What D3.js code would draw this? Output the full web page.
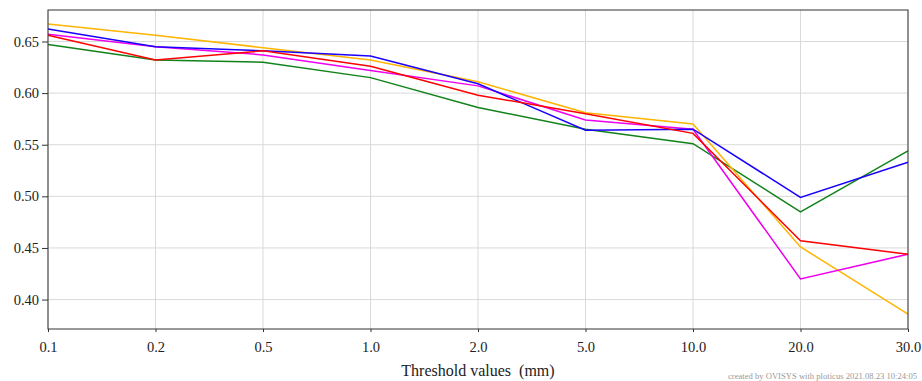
<!DOCTYPE html>
<html>
<head>
<meta charset="utf-8">
<script src="https://cdn.jsdelivr.net/npm/d3@7"></script>
<style>
  body { margin: 0; background: #fff; }
  svg { display: block; font-family: "Liberation Serif", "DejaVu Serif", serif; }
</style>
</head>
<body>
<div id="chart"></div>
<script>
// Data
const thresholds = ["0.1", "0.2", "0.5", "1.0", "2.0", "5.0", "10.0", "20.0", "30.0"];
const yTicks = [0.40, 0.45, 0.50, 0.55, 0.60, 0.65];

const greenValues   = [0.647, 0.632, 0.630, 0.615, 0.586, 0.565, 0.551, 0.485, 0.544];
const orangeValues  = [0.667, 0.656, 0.644, 0.632, 0.611, 0.581, 0.570, 0.451, 0.386];
const magentaValues = [0.657, 0.645, 0.637, 0.622, 0.607, 0.574, 0.565, 0.420, 0.444];
const blueValues    = [0.662, 0.645, 0.641, 0.636, 0.609, 0.564, 0.565, 0.499, 0.533];
const redValues     = [0.656, 0.632, 0.641, 0.626, 0.598, 0.580, 0.561, 0.457, 0.444];

const series = [
    { color: "#12821a", values: greenValues },
    { color: "#ffb400", values: orangeValues },
    { color: "#ee00ee", values: magentaValues },
    { color: "#1a00ff", values: blueValues },
    { color: "#ff0000", values: redValues }
];

const W = 922, H = 381;
const margin = { top: 10, right: 14, bottom: 52, left: 48 };
const width = W - margin.left - margin.right;
const height = H - margin.top - margin.bottom;

const svg = d3.select("#chart").append("svg")
    .attr("width", W)
    .attr("height", H);

const g = svg.append("g")
    .attr("transform", `translate(${margin.left},${margin.top})`);

const x = d3.scalePoint()
    .domain(thresholds)
    .range([0, width])
    .padding(0);

const y = d3.scaleLinear()
    .domain([0.3715, 0.6805])
    .range([height, 0]);

// grid
g.append("g")
    .selectAll("line")
    .data(thresholds)
    .join("line")
    .attr("x1", d => x(d)).attr("x2", d => x(d))
    .attr("y1", 0).attr("y2", height)
    .attr("stroke", "#d9d9d9");

g.append("g")
    .selectAll("line")
    .data(yTicks)
    .join("line")
    .attr("x1", 0).attr("x2", width)
    .attr("y1", d => y(d)).attr("y2", d => y(d))
    .attr("stroke", "#d9d9d9");

// lines
const line = d3.line()
    .x((d, i) => x(thresholds[i]))
    .y(d => y(d));

g.selectAll(".series")
    .data(series)
    .join("path")
    .attr("class", "series")
    .attr("fill", "none")
    .attr("stroke", d => d.color)
    .attr("stroke-width", 1.5)
    .attr("d", d => line(d.values));

// frame
g.append("rect")
    .attr("width", width)
    .attr("height", height)
    .attr("fill", "none")
    .attr("stroke", "#333")
    .attr("stroke-width", 1);

// axes
const xAxis = g.append("g")
    .attr("class", "x-axis")
    .attr("transform", `translate(0,${height})`)
    .call(d3.axisBottom(x).tickSize(3).tickPadding(10).tickSizeOuter(0));

const yAxis = g.append("g")
    .attr("class", "y-axis")
    .call(d3.axisLeft(y).tickValues(yTicks).tickFormat(d3.format(".2f")).tickSize(6).tickPadding(3).tickSizeOuter(0));

svg.selectAll(".x-axis path, .y-axis path").remove();
svg.selectAll(".x-axis line, .y-axis line").attr("stroke", "#333");
svg.selectAll(".x-axis text, .y-axis text")
    .attr("fill", "#222")
    .style("font-family", "Liberation Serif, serif")
    .style("font-size", "14.5px");

// axis title
svg.append("text")
    .attr("x", margin.left + width / 2)
    .attr("y", 376)
    .attr("text-anchor", "middle")
    .attr("fill", "#222")
    .style("font-size", "16px")
    .style("white-space", "pre")
    .text("Threshold values  (mm)");

// footer
svg.append("text")
    .attr("x", 728)
    .attr("y", 379)
    .attr("fill", "#999")
    .style("font-size", "8.6px")
    .text("created by OVISYS with ploticus 2021.08.23 10:24:05");
</script>
</body>
</html>
